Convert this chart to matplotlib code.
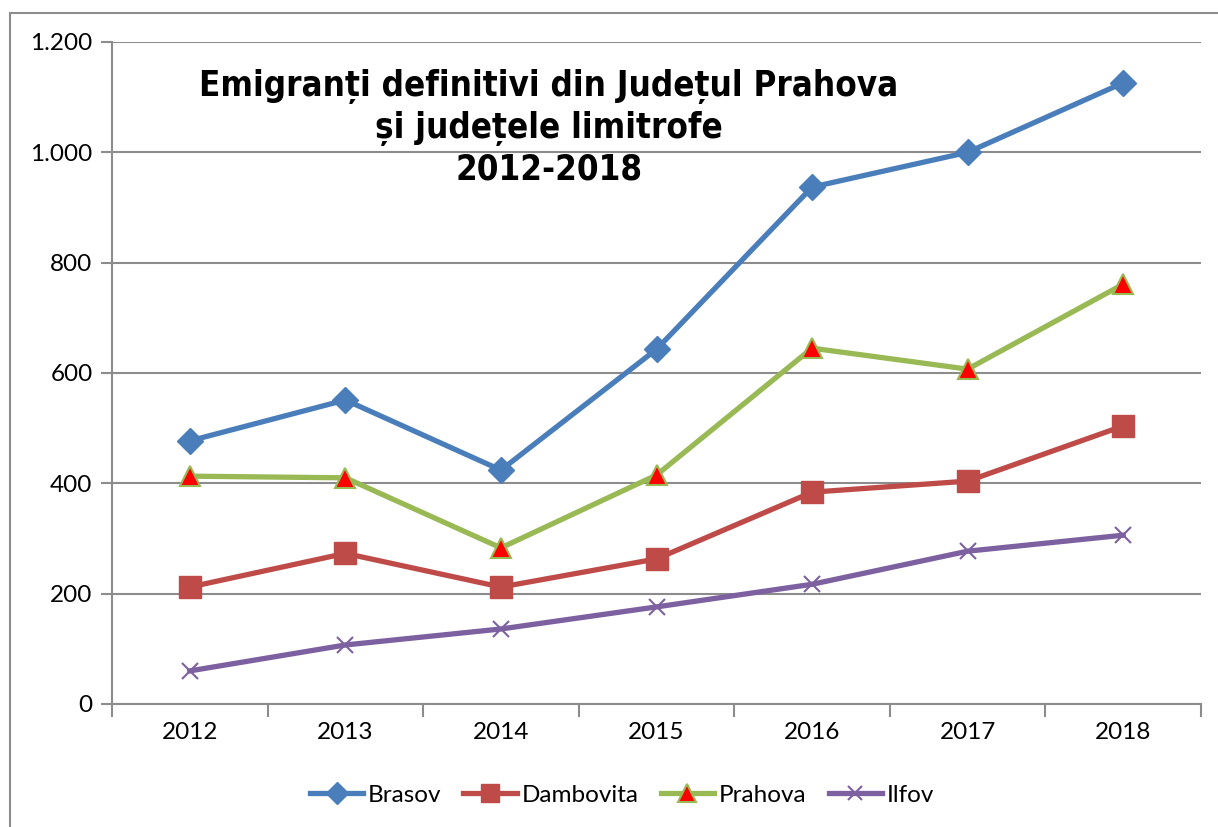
import matplotlib
matplotlib.use('Agg')
import matplotlib.pyplot as plt
from matplotlib.patches import Rectangle
from matplotlib.ticker import FuncFormatter, FixedLocator

# -----------------------------
# Data
# -----------------------------
years = ["2012", "2013", "2014", "2015", "2016", "2017", "2018"]
brasov = [477, 551, 424, 643, 937, 1000, 1126]
dambovita = [212, 273, 212, 263, 384, 404, 504]
prahova = [413, 410, 283, 415, 645, 607, 761]
ilfov = [60, 107, 136, 176, 217, 277, 306]

title = "Emigranți definitivi din Județul Prahova\nși județele limitrofe\n2012-2018"

plt.rcParams['font.family'] = ['Lato', 'DejaVu Sans']

fig = plt.figure(figsize=(12.18, 8.27), dpi=100)

# outer chart frame, running off the right and bottom edges
fig.patches.append(Rectangle((10 / 1218, -0.1), 1.2, 1 - 13 / 827 + 0.1,
                             transform=fig.transFigure, fill=False,
                             edgecolor="#8c8c8c", linewidth=1.5))

ax = fig.add_axes([112 / 1218, 1 - 704 / 827, (1201 - 112) / 1218, (704 - 42) / 827])

x = list(range(len(years)))
ax.plot(x, brasov, color="#4A7EBB", lw=3.8, marker="D", ms=13, label="Brasov")
ax.plot(x, dambovita, color="#BE4B48", lw=3.8, marker="s", ms=15.5, label="Dambovita")
ax.plot(x, prahova, color="#98B954", lw=3.8, marker="^", ms=14.5, mfc="#FF0000",
        mec="#98B954", mew=1.5, label="Prahova")
ax.plot(x, ilfov, color="#7D60A0", lw=3.8, marker="x", ms=12, mew=1.5, label="Ilfov")

ax.set_xlim(-0.5, len(years) - 0.5)
ax.set_ylim(0, 1200)
ax.set_yticks(range(0, 1201, 200))
ax.yaxis.set_major_formatter(FuncFormatter(lambda v, p: f"{int(v):,}".replace(",", ".")))
ax.set_xticks(x)
ax.set_xticklabels(years)
ax.xaxis.set_minor_locator(FixedLocator([i - 0.5 for i in range(len(years) + 1)]))

ax.grid(axis="y", color="#8c8c8c", lw=1.5)
ax.set_axisbelow(True)
for s in ("top", "right"):
    ax.spines[s].set_visible(False)
for s in ("left", "bottom"):
    ax.spines[s].set_color("#8c8c8c")
    ax.spines[s].set_linewidth(1.5)

ax.tick_params(axis="y", which="major", length=8, width=1.5, color="#8c8c8c",
               labelsize=17.5, pad=6)
ax.tick_params(axis="x", which="major", length=0, labelsize=17.5, pad=13)
ax.tick_params(axis="x", which="minor", length=9, width=1.5, color="#8c8c8c")

fig.text(549 / 1218, 1 - 128 / 827, title, ha="center", va="center",
         fontsize=25, fontweight="bold", linespacing=1.25,
         family=['DejaVu Sans'], fontstretch="condensed")

fig.legend(loc="center", bbox_to_anchor=(622 / 1218, 1 - 795 / 827), ncol=4,
           frameon=False, fontsize=17.5, handlelength=2.2, columnspacing=0.9,
           handletextpad=0.2, markerscale=0.85)

fig.savefig("out.png", dpi=100)
